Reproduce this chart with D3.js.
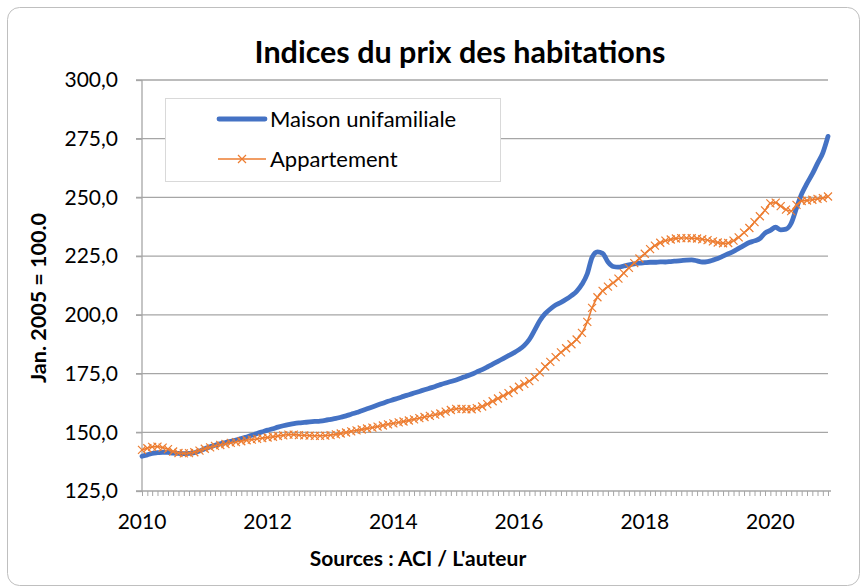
<!DOCTYPE html>
<html>
<head>
<meta charset="utf-8">
<script src="https://cdn.jsdelivr.net/npm/d3@7"></script>
<style>
  body { margin: 0; background: #fff; }
  text { font-family: Lato, "Open Sans", sans-serif; fill: #000; }
</style>
</head>
<body>
<svg id="chart"></svg>
<script>
// monthly values, Jan 2010 -> Dec 2020
let maison = [
    139.8, 140.4, 141.0, 141.3, 141.5, 141.4, 141.1, 141.0, 140.9, 141.0, 141.3, 142.0,
    143.0, 143.8, 144.5, 145.1, 145.6, 146.1, 146.7, 147.3, 148.0, 148.7, 149.5, 150.2,
    150.9, 151.5, 152.2, 152.8, 153.3, 153.7, 154.0, 154.2, 154.4, 154.6, 154.8, 155.1,
    155.5, 155.9, 156.4, 157.0, 157.7, 158.4, 159.2, 160.0, 160.8, 161.6, 162.4, 163.2,
    163.9, 164.6, 165.3, 166.0, 166.7, 167.4, 168.1, 168.8, 169.5, 170.3, 171.0, 171.6,
    172.3, 173.1, 173.9, 174.7, 175.7, 176.7, 177.8, 179.0, 180.2, 181.4, 182.6, 183.8,
    185.2, 187.0, 189.5, 193.5, 197.5, 200.5, 202.5, 204.2, 205.3, 206.6, 208.2, 210.0,
    213.0, 217.5, 224.5, 226.8, 226.2, 222.5, 220.6, 220.3, 220.8, 221.3, 221.7, 222.0,
    222.2, 222.4, 222.4, 222.6, 222.5, 222.7, 222.9, 223.1, 223.3, 223.4, 223.0, 222.5,
    222.7, 223.3, 224.0, 225.0, 226.0, 227.0, 228.3, 229.6, 230.8, 231.5, 232.5, 234.8,
    236.0, 237.3, 236.2, 236.5, 239.0, 245.5, 251.5, 256.0, 260.0, 264.5, 269.0, 276.0
];
let appartement = [
    142.5, 143.2, 143.8, 143.9, 143.5, 142.8, 141.8, 141.2, 141.0, 141.1, 141.5, 142.2,
    143.0, 143.6, 144.2, 144.6, 145.0, 145.5, 145.8, 146.2, 146.6, 146.9, 147.2, 147.5,
    147.8, 148.1, 148.4, 148.7, 149.0, 149.0, 148.8, 148.7, 148.6, 148.5, 148.5, 148.6,
    148.8, 149.1, 149.5, 149.9, 150.4, 150.8, 151.2, 151.6, 152.0, 152.4, 152.9, 153.4,
    153.8, 154.2, 154.6, 155.0, 155.5, 156.0, 156.5, 157.0, 157.5, 158.0, 158.8, 159.5,
    160.0, 160.0, 159.8, 159.8, 160.3, 161.0, 162.0, 163.2, 164.4, 165.5, 166.7, 168.0,
    169.4, 170.6, 171.8, 173.5, 175.5, 178.0, 180.0, 182.0, 184.0, 185.8, 187.5, 189.5,
    192.3, 197.0, 203.0, 207.5, 210.2, 212.0, 213.6, 215.4, 217.8, 220.0, 222.0, 224.0,
    226.0, 228.0, 229.5, 230.7, 231.6, 232.1, 232.5, 232.7, 232.7, 232.6, 232.5, 232.2,
    231.8, 231.3, 230.8, 230.5, 230.6, 231.6, 233.0, 235.0, 237.0, 239.5, 242.0, 244.5,
    247.5, 247.8, 246.3, 244.8, 244.2, 246.8, 248.5, 248.7, 249.0, 249.4, 249.7, 250.4
];
let seriesNames = ["Maison unifamiliale", "Appartement"];
let yTicks = [125, 150, 175, 200, 225, 250, 275, 300];
let xLabels = [2010, 2012, 2014, 2016, 2018, 2020];

let months = d3.timeMonth.range(new Date(2010, 0, 1), new Date(2021, 0, 1));

let margin = {top: 80, right: 37, bottom: 95, left: 142};
let W = 865, H = 586;
let width = W - margin.left - margin.right;
let height = H - margin.top - margin.bottom;

let svg = d3.select("#chart")
    .attr("width", W)
    .attr("height", H);

// outer frame
svg.append("rect")
    .attr("x", 7.5).attr("y", 7.5)
    .attr("width", W - 13).attr("height", H - 8)
    .attr("rx", 12)
    .style("fill", "#fff")
    .style("stroke", "#bfbfbf")
    .style("stroke-width", 1);

svg.append("text")
    .attr("x", 460)
    .attr("y", 63)
    .attr("text-anchor", "middle")
    .style("font-size", "30.5px")
    .style("font-weight", "bold")
    .text("Indices du prix des habitations");

let g = svg.append("g")
    .attr("transform", `translate(${margin.left}, ${margin.top})`);

let x = d3.scaleTime()
    .domain([months[0], months[months.length - 1]])
    .range([0, width]);

let y = d3.scaleLinear()
    .domain([125, 300])
    .range([height, 0]);

let fmt = d => d3.format(".1f")(d).replace(".", ",");

// gridlines
g.selectAll(".grid")
    .data(yTicks.slice(1))
    .join("line")
    .attr("x1", -6).attr("x2", width)
    .attr("y1", d => y(d)).attr("y2", d => y(d))
    .style("stroke", "#a6a6a6")
    .style("stroke-width", 1.3);

// y axis
let yAxis = g.append("g")
    .call(d3.axisLeft(y).tickValues(yTicks).tickFormat(fmt).tickSize(6).tickPadding(18));
yAxis.select(".domain").style("stroke", "#a6a6a6").style("stroke-width", 1.3)
    .attr("d", `M0,0V${height}`);
yAxis.selectAll(".tick line").style("stroke", "#a6a6a6").style("stroke-width", 1.3);
yAxis.selectAll("text").style("font-size", "21px").style("font-family", "Lato, sans-serif");

// x axis: monthly minor ticks
let xAxis = g.append("g")
    .attr("transform", `translate(0, ${height})`)
    .call(d3.axisBottom(x).tickValues(months).tickFormat("").tickSize(5).tickSizeOuter(0));
xAxis.select(".domain").style("stroke", "#a6a6a6").style("stroke-width", 1.3)
    .attr("d", `M-6,0H${width + 3}`);
xAxis.selectAll(".tick line").style("stroke", "#a6a6a6");

g.selectAll(".xlab")
    .data(xLabels)
    .join("text")
    .attr("x", d => x(new Date(d, 0, 1)))
    .attr("y", height + 38)
    .attr("text-anchor", "middle")
    .style("font-size", "21px")
    .text(d => d);

let lineGen = d3.line()
    .x((d, i) => x(months[i]))
    .y(d => y(d))
    .curve(d3.curveMonotoneX);

g.append("path")
    .datum(maison)
    .attr("d", lineGen)
    .style("fill", "none")
    .style("stroke", "#4472c4")
    .style("stroke-width", 4.8)
    .style("stroke-linecap", "round")
    .style("stroke-linejoin", "round");

g.append("path")
    .datum(appartement)
    .attr("d", lineGen)
    .style("fill", "none")
    .style("stroke", "#ed7d31")
    .style("stroke-width", 1.6);

let cross = s => `M${-s},${-s}L${s},${s}M${-s},${s}L${s},${-s}`;

g.selectAll(".mk")
    .data(appartement)
    .join("path")
    .attr("transform", (d, i) => `translate(${x(months[i])}, ${y(d)})`)
    .attr("d", cross(4))
    .style("stroke", "#ed7d31")
    .style("stroke-width", 1.2);

// axis titles
svg.append("text")
    .attr("transform", "translate(46, 298) rotate(-90)")
    .attr("text-anchor", "middle")
    .style("font-size", "21.5px")
    .style("font-weight", "bold")
    .text("Jan. 2005 = 100.0");

svg.append("text")
    .attr("x", 418)
    .attr("y", 566)
    .attr("text-anchor", "middle")
    .style("font-size", "21px")
    .style("font-weight", "bold")
    .text("Sources : ACI / L'auteur");

// legend
let legend = svg.append("g");
legend.append("rect")
    .attr("x", 165.5).attr("y", 98.5)
    .attr("width", 335).attr("height", 83)
    .style("fill", "#fff")
    .style("stroke", "#d9d9d9");

legend.append("line")
    .attr("x1", 219).attr("x2", 265)
    .attr("y1", 119).attr("y2", 119)
    .style("stroke", "#4472c4")
    .style("stroke-width", 4.8)
    .style("stroke-linecap", "round");

legend.append("line")
    .attr("x1", 218).attr("x2", 266)
    .attr("y1", 159).attr("y2", 159)
    .style("stroke", "#ed7d31")
    .style("stroke-width", 1.6);

legend.append("path")
    .attr("transform", "translate(242, 159)")
    .attr("d", cross(4))
    .style("stroke", "#ed7d31")
    .style("stroke-width", 1.2);

legend.selectAll(".ltxt")
    .data(seriesNames)
    .join("text")
    .attr("x", 270)
    .attr("y", (d, i) => 119 + i * 40)
    .attr("dy", "0.35em")
    .style("font-size", "22px")
    .text(d => d);
</script>
</body>
</html>
